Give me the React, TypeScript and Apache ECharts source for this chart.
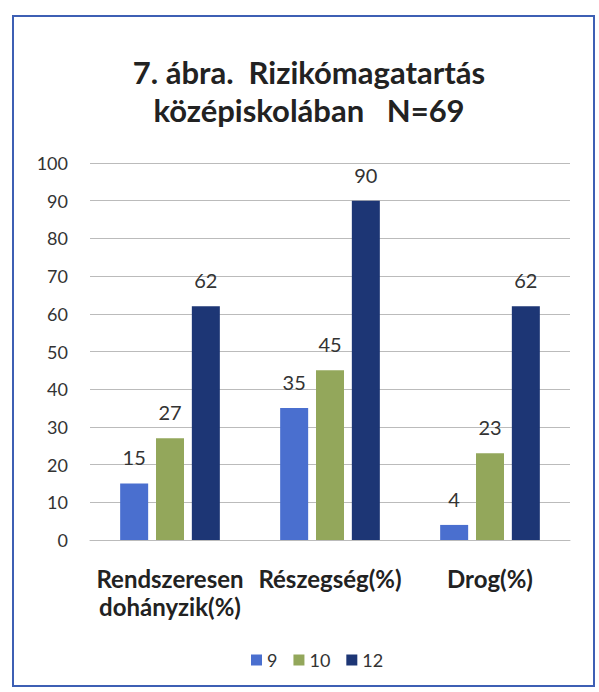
import React, { useEffect, useRef } from "react";
import * as echarts from "echarts";

const categories = ["Rendszeresen\ndohányzik(%)", "Részegség(%)", "Drog(%)"];
const seriesNames = ["9", "10", "12"];
const values9 = [15, 35, 4];
const values10 = [27, 45, 23];
const values12 = [62, 90, 62];
const colors = ["#4a6fcf", "#93a75b", "#1d3675"];

export default function App() {
  const ref = useRef<HTMLDivElement>(null);
  useEffect(() => {
    if (!ref.current) return;
    const chart = echarts.init(ref.current, null, { renderer: "svg" });
    const font = "Lato, 'Open Sans', sans-serif";
    const data = [values9, values10, values12];
    chart.setOption({
      animation: false,
      backgroundColor: "#ffffff",
      textStyle: { fontFamily: font },
      graphic: [
        {
          type: "rect",
          shape: { x: 13, y: 16, width: 581, height: 670 },
          style: { fill: "none", stroke: "#3d5fb4", lineWidth: 2 },
        },
      ],
      title: {
        text: "7. ábra.  Rizikómagatartás\nközépiskolában   N=69",
        left: 304,
        textAlign: "center",
        top: 48,
        textStyle: {
          fontFamily: font,
          fontSize: 31,
          fontWeight: "bold",
          color: "#222",
          lineHeight: 38,
        },
      },
      legend: {
        data: seriesNames,
        top: 646,
        left: 246,
        itemWidth: 11,
        itemHeight: 11,
        itemGap: 16,
        icon: "rect",
        textStyle: { fontFamily: font, fontSize: 18, color: "#333" },
      },
      grid: { left: 90, right: 29, top: 163, bottom: 152, containLabel: false },
      xAxis: {
        type: "category",
        data: categories,
        axisLine: { show: true, lineStyle: { color: "#bbbbbb" } },
        axisTick: { show: false },
        axisLabel: {
          fontFamily: font,
          fontSize: 24,
          fontWeight: "bold",
          color: "#222",
          margin: 24,
          lineHeight: 28,
          interval: 0,
        },
      },
      yAxis: {
        type: "value",
        min: 0,
        max: 100,
        interval: 10,
        axisLine: { show: false },
        axisTick: { show: false },
        splitLine: { lineStyle: { color: "#bbbbbb" } },
        axisLabel: { fontFamily: font, fontSize: 18, color: "#333", margin: 22 },
      },
      series: seriesNames.map((name, i) => ({
        name,
        type: "bar",
        data: data[i],
        barWidth: 28,
        barGap: "28%",
        itemStyle: { color: colors[i] },
        label: {
          show: true,
          position: "top",
          distance: 16,
          fontFamily: font,
          fontSize: 20,
          color: "#333",
        },
      })),
    });
    return () => chart.dispose();
  }, []);
  return (
    <div
      ref={ref}
      style={{ position: "fixed", left: 0, top: 0, width: 599, height: 692 }}
    />
  );
}
